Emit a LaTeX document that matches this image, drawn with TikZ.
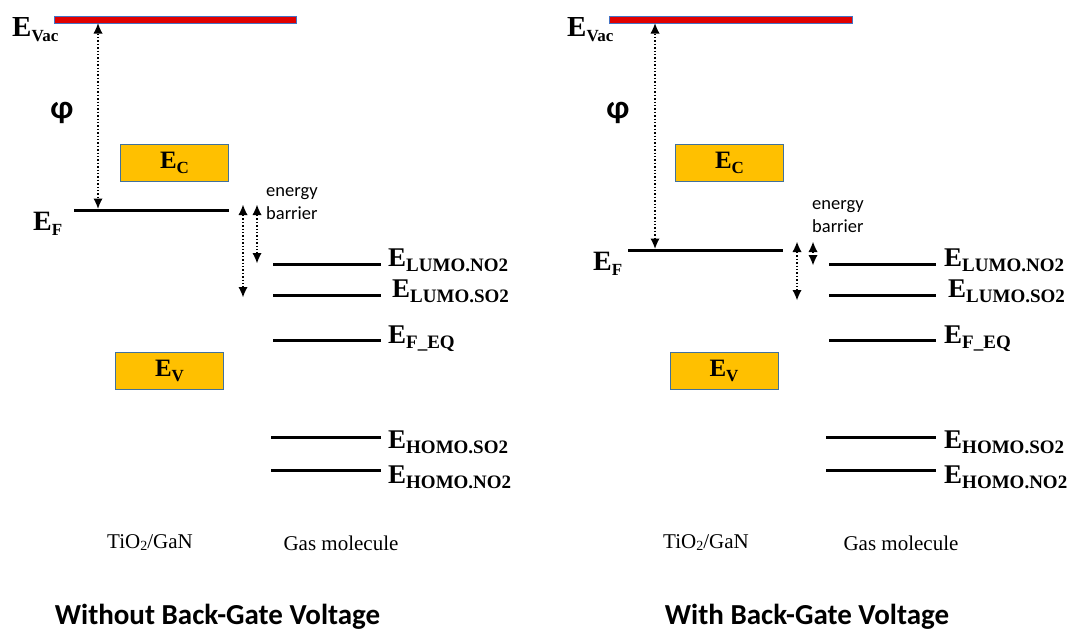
\documentclass[tikz,border=0pt]{standalone}
\usepackage{fontspec}
\setmainfont{Liberation Serif}
\newfontfamily\calfont{Carlito}
\usetikzlibrary{arrows.meta}
\definecolor{bandfill}{HTML}{FFC000}
\definecolor{bandedge}{HTML}{41719C}
\definecolor{vacred}{HTML}{E00000}
\definecolor{vacedge}{HTML}{4472C4}
\newcommand{\elab}[3]{{\fontsize{#1}{#1}\selectfont\bfseries E}\raisebox{-5pt}{\fontsize{#2}{#2}\selectfont\bfseries #3}}
\tikzset{
  tipL/.tip={Latex[length=10pt,width=9pt,line width=0pt]},
  level/.style={line width=3pt},
  dotarrow/.style={dotted, line width=1.4pt, tipL-tipL},
  band/.style={draw=bandedge, fill=bandfill, line width=1pt, minimum width=108pt, minimum height=37pt, inner sep=0pt},
  vacbar/.style={draw=vacedge, fill=vacred, line width=0.8pt, minimum height=7pt, inner sep=0pt},
  lab/.style={anchor=base west, inner sep=0pt},
  phisym/.style={font=\calfont\bfseries\fontsize{33}{33}\selectfont, inner sep=0pt},
  note/.style={font=\calfont\fontsize{18.5}{23}\selectfont, align=left, anchor=north west, inner sep=0pt},
  capt/.style={font=\fontsize{21}{21}\selectfont, inner sep=0pt},
  ttl/.style={font=\calfont\bfseries\fontsize{29}{29}\selectfont, anchor=base, inner sep=0pt}
}
\begin{document}
\begin{tikzpicture}[x=1pt, y=-1pt]
\useasboundingbox (0,0) rectangle (1073,632);
% ---------------- Left panel ----------------
\node[vacbar, minimum width=242pt] (vacL) at (175,19.5) {};
\node[lab] (evacL) at (12,36) {\elab{29}{17}{Vac}};
\node[phisym] (phiL) at (62,113) {φ};
\node[band] (ecL) at (174.5,162.5) {\elab{25}{17}{C}};
\node[band] (evL) at (169.5,371) {\elab{25}{17}{V}};
\coordinate (efL1) at (74,210); \coordinate (efL2) at (229,210);
\draw[level] (efL1) -- (efL2);
\node[lab] (efLlab) at (33,230) {\elab{28}{17}{F}};
\coordinate (phiTopL) at (98,23.5); \coordinate (phiBotL) at (98,208.5);
\draw[dotarrow] (phiTopL) -- (phiBotL);
\node[note] (ebL) at (266,187) {energy\\barrier};
\coordinate (bL1a) at (243,205); \coordinate (bL1b) at (243,297);
\coordinate (bL2a) at (257,205); \coordinate (bL2b) at (257,263);
\draw[dotarrow] (bL1a) -- (bL1b);
\draw[dotarrow] (bL2a) -- (bL2b);
\coordinate (gL1a) at (273,264); \coordinate (gL1b) at (381,264);
\coordinate (gL2a) at (273,295); \coordinate (gL2b) at (381,295);
\coordinate (gL3a) at (273,340); \coordinate (gL3b) at (381,340);
\coordinate (gL4a) at (271,437); \coordinate (gL4b) at (381,437);
\coordinate (gL5a) at (271,470); \coordinate (gL5b) at (381,470);
\draw[level] (gL1a) -- (gL1b);
\draw[level] (gL2a) -- (gL2b);
\draw[level] (gL3a) -- (gL3b);
\draw[level] (gL4a) -- (gL4b);
\draw[level] (gL5a) -- (gL5b);
\node[lab] (lL1) at (388,266) {\elab{27}{19}{LUMO.NO2}};
\node[lab] (lL2) at (392,297) {\elab{27}{19}{LUMO.SO2}};
\node[lab] (lL3) at (388,343) {\elab{27}{19}{F\_EQ}};
\node[lab] (lL4) at (388,448) {\elab{27}{19}{HOMO.SO2}};
\node[lab] (lL5) at (388,483) {\elab{27}{19}{HOMO.NO2}};
\node[capt] (tiL) at (150,543) {TiO\raisebox{-2pt}{\fontsize{14}{14}\selectfont 2}/GaN};
\node[capt] (gasL) at (341,543) {Gas molecule};
\node[ttl] (titL) at (217.5,624) {Without Back-Gate Voltage};
% ---------------- Right panel ----------------
\node[vacbar, minimum width=243pt] (vacR) at (730.5,19.5) {};
\node[lab] (evacR) at (567,36) {\elab{29}{17}{Vac}};
\node[phisym] (phiR) at (618,113) {φ};
\node[band] (ecR) at (729.5,162.5) {\elab{25}{17}{C}};
\node[band] (evR) at (724,371) {\elab{25}{17}{V}};
\coordinate (efR1) at (628,250); \coordinate (efR2) at (783,250);
\draw[level] (efR1) -- (efR2);
\node[lab] (efRlab) at (593,270) {\elab{28}{17}{F}};
\coordinate (phiTopR) at (655,23.5); \coordinate (phiBotR) at (655,248.5);
\draw[dotarrow] (phiTopR) -- (phiBotR);
\node[note] (ebR) at (812,200) {energy\\barrier};
\coordinate (bR1a) at (797,242); \coordinate (bR1b) at (797,300);
\coordinate (bR2a) at (813,242); \coordinate (bR2b) at (813,265);
\draw[dotarrow] (bR1a) -- (bR1b);
\draw[dotarrow] (bR2a) -- (bR2b);
\coordinate (gR1a) at (829,264); \coordinate (gR1b) at (936,264);
\coordinate (gR2a) at (829,295); \coordinate (gR2b) at (936,295);
\coordinate (gR3a) at (829,340); \coordinate (gR3b) at (936,340);
\coordinate (gR4a) at (826,437); \coordinate (gR4b) at (936,437);
\coordinate (gR5a) at (826,470); \coordinate (gR5b) at (936,470);
\draw[level] (gR1a) -- (gR1b);
\draw[level] (gR2a) -- (gR2b);
\draw[level] (gR3a) -- (gR3b);
\draw[level] (gR4a) -- (gR4b);
\draw[level] (gR5a) -- (gR5b);
\node[lab] (lR1) at (944,266) {\elab{27}{19}{LUMO.NO2}};
\node[lab] (lR2) at (948,297) {\elab{27}{19}{LUMO.SO2}};
\node[lab] (lR3) at (944,343) {\elab{27}{19}{F\_EQ}};
\node[lab] (lR4) at (944,448) {\elab{27}{19}{HOMO.SO2}};
\node[lab] (lR5) at (944,483) {\elab{27}{19}{HOMO.NO2}};
\node[capt] (tiR) at (706,543) {TiO\raisebox{-2pt}{\fontsize{14}{14}\selectfont 2}/GaN};
\node[capt] (gasR) at (901,543) {Gas molecule};
\node[ttl] (titR) at (807,624) {With Back-Gate Voltage};
\end{tikzpicture}
\end{document}
